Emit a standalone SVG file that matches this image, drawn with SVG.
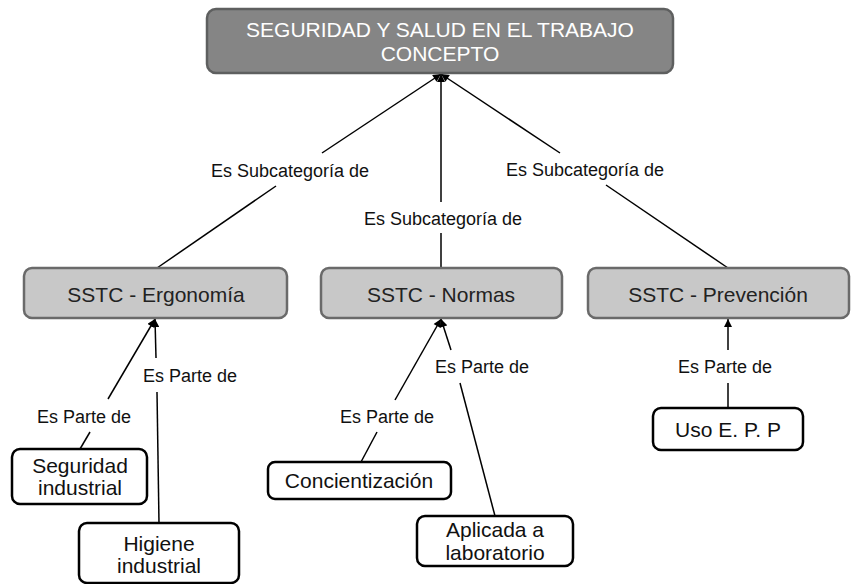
<svg xmlns="http://www.w3.org/2000/svg" width="856" height="584" viewBox="0 0 856 584">
<defs>
<marker id="arr" viewBox="0 0 10 10" refX="10" refY="5" markerUnits="userSpaceOnUse" markerWidth="9" markerHeight="8" orient="auto">
<path d="M0,0 L10,5 L0,10 z" fill="#000"/>
</marker>
<style>
text{font-family:"Liberation Sans",Arial,sans-serif;text-anchor:middle}
.top rect{fill:#858585;stroke:#5e5f5f;stroke-width:2.5}
.top text{fill:#fff;font-size:21px}
.mid rect{fill:#c8c8c8;stroke:#6a6a6a;stroke-width:2.5}
.mid text{fill:#222;font-size:21px}
.leaf rect{fill:#fff;stroke:#000;stroke-width:2.5}
.leaf text{fill:#111;font-size:21px}
.lab{fill:#111;font-size:18px}
.con line{stroke:#000;stroke-width:1.5}
.con line.a{marker-end:url(#arr)}
</style>
</defs>
<rect width="856" height="584" fill="#fff"/>
<g id="connectors" class="con">
<line x1="157" y1="268" x2="276" y2="186"/>
<line class="a" x1="322" y1="153" x2="441" y2="74"/>
<line x1="441" y1="268" x2="441" y2="233"/>
<line class="a" x1="441" y1="202" x2="441" y2="74"/>
<line x1="728" y1="268" x2="606" y2="185"/>
<line class="a" x1="560" y1="153" x2="441" y2="74"/>
<line x1="80" y1="449" x2="90" y2="432"/>
<line class="a" x1="108" y1="399" x2="155" y2="319"/>
<line x1="159" y1="523" x2="157" y2="392"/>
<line class="a" x1="156" y1="358" x2="155" y2="319"/>
<line x1="361" y1="462" x2="377" y2="432"/>
<line class="a" x1="395" y1="400" x2="441" y2="319"/>
<line x1="495" y1="516" x2="460" y2="383"/>
<line class="a" x1="451" y1="350" x2="441" y2="319"/>
<line x1="728" y1="408" x2="728" y2="383"/>
<line class="a" x1="728" y1="350" x2="728" y2="319"/>
<text class="lab" x="290" y="177">Es Subcategoría de</text>
<text class="lab" x="443" y="225">Es Subcategoría de</text>
<text class="lab" x="585" y="176">Es Subcategoría de</text>
<text class="lab" x="84" y="423">Es Parte de</text>
<text class="lab" x="190" y="382">Es Parte de</text>
<text class="lab" x="387" y="423">Es Parte de</text>
<text class="lab" x="482" y="373">Es Parte de</text>
<text class="lab" x="725" y="373">Es Parte de</text>
</g>
<g id="n-top" class="top">
<rect x="207" y="9" width="466" height="64" rx="9"/>
<text x="440" y="37">SEGURIDAD Y SALUD EN EL TRABAJO</text>
<text x="440" y="61">CONCEPTO</text>
</g>
<g id="n-ergonomia" class="mid">
<rect x="24" y="268" width="263" height="50" rx="8"/>
<text x="156" y="302">SSTC - Ergonomía</text>
</g>
<g id="n-normas" class="mid">
<rect x="321" y="268" width="241" height="50" rx="8"/>
<text x="441" y="302">SSTC - Normas</text>
</g>
<g id="n-prevencion" class="mid">
<rect x="588" y="268" width="261" height="50" rx="8"/>
<text x="718" y="302">SSTC - Prevención</text>
</g>
<g id="n-seguridad" class="leaf">
<rect x="12" y="449" width="135" height="55" rx="8"/>
<text x="80" y="473">Seguridad</text>
<text x="80" y="495">industrial</text>
</g>
<g id="n-higiene" class="leaf">
<rect x="79" y="523" width="160" height="60" rx="8"/>
<text x="159" y="551">Higiene</text>
<text x="159" y="573">industrial</text>
</g>
<g id="n-concientizacion" class="leaf">
<rect x="268" y="462" width="183" height="37" rx="7"/>
<text x="359" y="488">Concientización</text>
</g>
<g id="n-aplicada" class="leaf">
<rect x="417" y="516" width="156" height="50" rx="8"/>
<text x="495" y="537">Aplicada a</text>
<text x="495" y="560">laboratorio</text>
</g>
<g id="n-uso" class="leaf">
<rect x="653" y="408" width="150" height="42" rx="8"/>
<text x="728" y="437">Uso E. P. P</text>
</g>
</svg>
